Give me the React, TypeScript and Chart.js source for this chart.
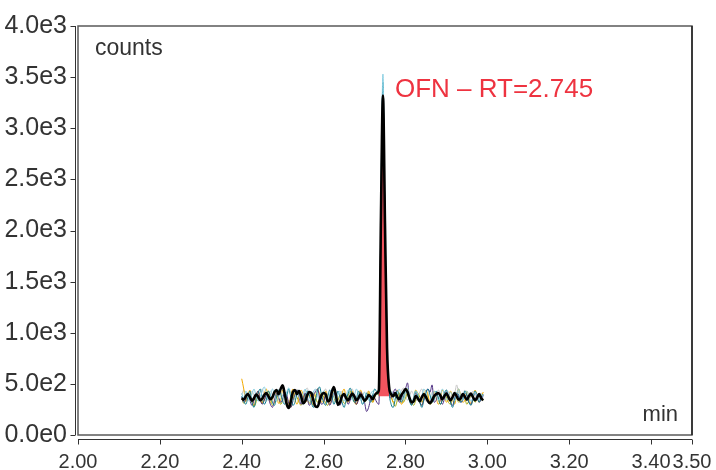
import React, { useEffect, useRef } from "react";
import { Chart, registerables } from "chart.js";

Chart.register(...registerables);

// Retention times (min), sampled every 0.005 min
const TIMES = [
  2.400, 2.405, 2.410, 2.415, 2.420, 2.425, 2.430, 2.435, 2.440, 2.445,
  2.450, 2.455, 2.460, 2.465, 2.470, 2.475, 2.480, 2.485, 2.490, 2.495,
  2.500, 2.505, 2.510, 2.515, 2.520, 2.525, 2.530, 2.535, 2.540, 2.545,
  2.550, 2.555, 2.560, 2.565, 2.570, 2.575, 2.580, 2.585, 2.590, 2.595,
  2.600, 2.605, 2.610, 2.615, 2.620, 2.625, 2.630, 2.635, 2.640, 2.645,
  2.650, 2.655, 2.660, 2.665, 2.670, 2.675, 2.680, 2.685, 2.690, 2.695,
  2.700, 2.705, 2.710, 2.715, 2.720, 2.725, 2.730, 2.735, 2.740, 2.745,
  2.750, 2.755, 2.760, 2.765, 2.770, 2.775, 2.780, 2.785, 2.790, 2.795,
  2.800, 2.805, 2.810, 2.815, 2.820, 2.825, 2.830, 2.835, 2.840, 2.845,
  2.850, 2.855, 2.860, 2.865, 2.870, 2.875, 2.880, 2.885, 2.890, 2.895,
  2.900, 2.905, 2.910, 2.915, 2.920, 2.925, 2.930, 2.935, 2.940, 2.945,
  2.950, 2.955, 2.960, 2.965, 2.970, 2.975, 2.980, 2.985, 2.990,
];

// Black (mean) trace, counts
const BLACK = [
  360, 345, 380, 400, 370, 335, 360, 395, 375, 340,
  355, 390, 410, 380, 350, 370, 420, 440, 400, 450,
  485, 400, 300, 265, 330, 420, 440, 400, 430, 380,
  310, 330, 390, 420, 410, 340, 280, 275, 330, 390,
  410, 400, 330, 340, 420, 470, 390, 295, 320, 380,
  400, 360, 340, 375, 405, 380, 340, 360, 395, 370,
  335, 355, 390, 375, 350, 390, 410,
  440, 2100, 3320, 2050, 850, 470,
  400, 380, 410, 370, 350, 390, 420, 450, 420, 360,
  320, 330, 380, 360, 330, 370, 400, 370, 330, 310,
  340, 380, 400, 410, 390, 350, 380, 405, 370, 340,
  370, 410, 380, 345, 360, 400, 375, 345, 380, 405,
  370, 340, 365, 400, 360, 340,
];

const ORANGE = [
  550, 450, 330, 390, 440, 340, 290, 370, 430, 350,
  310, 400, 450, 370, 320, 350, 430, 390, 310, 340,
  440, 400, 320, 290, 390, 450, 350, 300, 370, 440,
  390, 320, 350, 430, 340, 290, 370, 450, 400, 320,
  340, 430, 370, 300, 350, 440, 390, 320, 300, 400,
  450, 370, 320, 390, 430, 340, 300, 370, 440, 390,
  340, 350, 430, 370, 320, 380, 420,
  430, 1900, 3250, 2000, 850, 450,
  390, 320, 350, 440, 390, 300, 340, 430, 450, 370,
  300, 350, 440, 400, 320, 290, 370, 440, 390, 320,
  350, 430, 370, 300, 340, 440, 400, 320, 350, 430,
  370, 300, 390, 450, 390, 320, 340, 430, 370, 300,
  350, 440, 390, 320, 370, 420,
];

const TEAL = [
  380, 330, 300, 370, 430, 320, 270, 350, 410, 450,
  370, 300, 340, 430, 390, 320, 290, 370, 440, 400,
  330, 300, 390, 450, 370, 290, 320, 410, 440, 350,
  300, 370, 430, 390, 320, 270, 340, 430, 470, 390,
  320, 290, 370, 440, 390, 300, 350, 430, 370, 320,
  270, 340, 410, 460, 390, 320, 350, 430, 370, 300,
  340, 410, 370, 320, 390, 450, 420,
  410, 2200, 3450, 2150, 850, 430,
  300, 270, 350, 430, 390, 320, 370, 440, 400, 330,
  290, 350, 430, 390, 320, 270, 340, 410, 450, 390,
  320, 350, 430, 370, 300, 340, 410, 440, 370, 320,
  270, 340, 410, 390, 320, 350, 430, 390, 320, 290,
  350, 430, 390, 320, 370, 400,
];

const LIGHT_BLUE = [
  410, 360, 430, 380, 330, 400, 450, 380, 330, 370,
  430, 470, 410, 340, 380, 450, 400, 330, 370, 420,
  380, 340, 420, 460, 400, 330, 370, 430, 380, 340,
  400, 450, 380, 330, 370, 420, 450, 400, 340, 380,
  430, 370, 330, 400, 450, 380, 340, 400, 430, 370,
  330, 380, 440, 400, 340, 380, 450, 400, 340, 370,
  420, 380, 340, 400, 430, 380, 400,
  420, 2300, 3530, 2050, 820, 420,
  430, 370, 330, 400, 450, 380, 340, 420, 460, 400,
  330, 370, 430, 400, 340, 380, 450, 410, 340, 310,
  380, 430, 400, 340, 380, 450, 400, 340, 370, 420,
  380, 330, 400, 450, 380, 340, 400, 430, 380, 330,
  370, 420, 380, 340, 400, 370,
];

const PURPLE = [
  370, 320, 350, 410, 340, 290, 340, 390, 430, 350,
  300, 340, 390, 360, 300, 270, 340, 410, 370, 320,
  350, 420, 390, 310, 270, 330, 390, 440, 370, 300,
  340, 410, 360, 290, 320, 390, 420, 450, 370, 300,
  320, 390, 360, 290, 340, 410, 370, 320, 290, 350,
  410, 370, 300, 340, 390, 360, 300, 340, 420, 390,
  320, 230, 270, 350, 390, 360, 320,
  300, 2000, 3300, 1950, 800, 420,
  360, 410, 450, 390, 320, 350, 420, 450, 510, 340,
  300, 350, 410, 370, 320, 290, 350, 420, 450, 420,
  490, 320, 340, 410, 370, 300, 350, 420, 390, 320,
  290, 350, 410, 370, 320, 340, 410, 390, 320, 300,
  370, 420, 370, 320, 350, 390,
];

const OLIVE = [
  360, 310, 340, 410, 370, 320, 280, 320, 390, 360,
  310, 340, 390, 430, 360, 290, 320, 390, 360, 300,
  340, 410, 370, 300, 270, 340, 410, 370, 320, 290,
  340, 400, 360, 310, 340, 410, 370, 320, 360, 410,
  370, 310, 290, 360, 410, 370, 320, 340, 390, 360,
  310, 320, 390, 430, 370, 320, 300, 360, 410, 370,
  320, 360, 410, 370, 320, 370, 400,
  390, 1950, 3280, 1950, 820, 430,
  370, 320, 280, 340, 410, 370, 320, 360, 410, 370,
  320, 290, 340, 410, 370, 320, 360, 400, 360, 300,
  320, 370, 410, 360, 300, 340, 390, 370, 320, 300,
  360, 410, 370, 320, 340, 390, 360, 300, 340, 390,
  370, 320, 360, 410, 370, 340,
];

const GRAY = [
  390, 440, 380, 330, 380, 430, 390, 340, 370, 420,
  450, 380, 330, 370, 430, 390, 340, 380, 440, 410,
  350, 320, 380, 430, 390, 340, 380, 450, 400, 330,
  370, 430, 460, 390, 340, 380, 430, 390, 330, 370,
  420, 450, 380, 330, 370, 420, 390, 340, 380, 430,
  390, 330, 370, 420, 450, 380, 340, 390, 430, 380,
  330, 380, 430, 390, 340, 390, 410,
  400, 2050, 3350, 2100, 850, 440,
  380, 430, 390, 330, 370, 430, 460, 390, 340, 380,
  430, 390, 330, 370, 420, 450, 380, 330, 380, 430,
  390, 340, 380, 440, 410, 340, 380, 440, 420, 370,
  330, 390, 490, 410, 340, 380, 440, 390, 340, 380,
  430, 390, 340, 380, 410, 370,
];

// Integrated peak window (indices into TIMES) and its baseline
const PEAK_START = 67;
const PEAK_END = 72;
const PEAK_BASELINE = 380;
const PEAK_LABEL = "OFN – RT=2.745";
const PEAK_RT = 2.745;
const PEAK_TOP = 3320;

const X_TICKS = [2.0, 2.2, 2.4, 2.6, 2.8, 3.0, 3.2, 3.4, 3.5];
const Y_TICKS = [0, 500, 1000, 1500, 2000, 2500, 3000, 3500, 4000];
const X_MIN = 2.0, X_MAX = 3.5, Y_MIN = 0, Y_MAX = 4000;

const FONT = "'Liberation Sans', Arial, Helvetica, sans-serif";
const TEXT = "#333333";

const toPts = (vals: number[]) => vals.map((v, i) => ({ x: TIMES[i], y: v }));

const framePlugin = {
  id: "frame",
  afterDraw(chart: any) {
    const { ctx, chartArea: a, scales } = chart;
    const xs = scales.x, ys = scales.y;
    ctx.save();
    // plot box
    ctx.strokeStyle = "#5a5a5a";
    ctx.lineWidth = 1.5;
    ctx.strokeRect(a.left, a.top, a.right - a.left, a.bottom - a.top);
    ctx.strokeStyle = "#222";
    ctx.beginPath();
    ctx.moveTo(a.right, a.top);
    ctx.lineTo(a.right, a.bottom);
    ctx.stroke();
    // detached y axis
    ctx.strokeStyle = "#333";
    ctx.lineWidth = 1;
    const ax = Math.round(a.left - 3) + 0.5;
    ctx.beginPath();
    ctx.moveTo(ax, ys.getPixelForValue(Y_MAX));
    ctx.lineTo(ax, ys.getPixelForValue(Y_MIN));
    for (const t of ys.ticks) {
      const py = Math.round(ys.getPixelForValue(t.value)) + 0.5;
      ctx.moveTo(ax - 5, py);
      ctx.lineTo(ax, py);
    }
    ctx.stroke();
    // detached x axis
    const ay = Math.round(a.bottom + 4) + 0.5;
    ctx.beginPath();
    ctx.moveTo(xs.getPixelForValue(X_MIN), ay);
    ctx.lineTo(xs.getPixelForValue(X_MAX), ay);
    for (const t of xs.ticks) {
      const px = Math.round(xs.getPixelForValue(t.value)) + 0.5;
      ctx.moveTo(px, ay);
      ctx.lineTo(px, ay + 5);
    }
    ctx.stroke();
    // axis titles inside the box
    ctx.fillStyle = TEXT;
    ctx.textBaseline = "alphabetic";
    ctx.font = `23px ${FONT}`;
    ctx.textAlign = "left";
    ctx.fillText("counts", a.left + 17, a.top + 29);
    ctx.font = `22px ${FONT}`;
    ctx.textAlign = "right";
    ctx.fillText("min", a.right - 14, a.bottom - 14);
    // peak label
    ctx.fillStyle = "#ee3340";
    ctx.font = `26px ${FONT}`;
    ctx.textAlign = "left";
    ctx.fillText(PEAK_LABEL, xs.getPixelForValue(PEAK_RT) + 12, ys.getPixelForValue(PEAK_TOP) + 1);
    ctx.restore();
  },
};

export default function App() {
  const ref = useRef<HTMLCanvasElement | null>(null);
  useEffect(() => {
    if (!ref.current) return;
    const thin = (data: number[], color: string) => ({
      data: toPts(data),
      borderColor: color,
      borderWidth: 1,
      pointRadius: 0,
      fill: false,
      cubicInterpolationMode: "monotone" as const,
    });
    const chart = new Chart(ref.current, {
      type: "line",
      data: {
        datasets: [
          {
            data: toPts(BLACK),
            borderColor: "#000000",
            borderWidth: 2.6,
            pointRadius: 0,
            fill: false,
            cubicInterpolationMode: "monotone",
          },
          {
            data: toPts(BLACK).slice(PEAK_START, PEAK_END + 1),
            borderColor: "#b3202a",
            borderWidth: 1,
            backgroundColor: "rgba(240, 60, 72, 0.88)",
            pointRadius: 0,
            fill: { value: PEAK_BASELINE },
            cubicInterpolationMode: "monotone",
          },
          thin(LIGHT_BLUE, "#86cde0"),
          thin(TEAL, "#0b7a8e"),
          thin(PURPLE, "#4b2c80"),
          thin(ORANGE, "#f2a900"),
          thin(OLIVE, "#a8aa10"),
          thin(GRAY, "#c6c6c6"),
        ] as any,
      },
      options: {
        animation: false,
        responsive: true,
        maintainAspectRatio: false,
        parsing: false as any,
        layout: { padding: { top: 23, right: 24, left: 0, bottom: 0 } },
        plugins: { legend: { display: false }, tooltip: { enabled: false } },
        scales: {
          x: {
            type: "linear",
            min: X_MIN,
            max: X_MAX,
            grid: { display: false, drawTicks: false },
            border: { display: false },
            afterBuildTicks: (s: any) => {
              s.ticks = X_TICKS.map((v) => ({ value: v }));
            },
            afterFit: (s: any) => {
              s.height = 35;
              s.paddingLeft = 0;
              s.paddingRight = 0;
            },
            ticks: {
              autoSkip: false,
              maxRotation: 0,
              minRotation: 0,
              padding: 15,
              color: TEXT,
              font: { family: FONT, size: 20 },
              callback: (v: any) => Number(v).toFixed(2),
            },
          },
          y: {
            type: "linear",
            min: Y_MIN,
            max: Y_MAX,
            grid: { display: false, drawTicks: false },
            border: { display: false },
            afterBuildTicks: (s: any) => {
              s.ticks = Y_TICKS.map((v) => ({ value: v }));
            },
            afterFit: (s: any) => {
              s.width = 78;
            },
            ticks: {
              autoSkip: false,
              padding: 11,
              color: TEXT,
              font: { family: FONT, size: 25 },
              callback: (v: any) => Number(v).toExponential(1).replace("e+", "e"),
            },
          },
        },
      },
      plugins: [framePlugin],
    });
    return () => chart.destroy();
  }, []);
  return (
    <div style={{ position: "absolute", left: 0, top: 0, width: 716, height: 470, background: "#fff" }}>
      <canvas ref={ref} />
    </div>
  );
}
